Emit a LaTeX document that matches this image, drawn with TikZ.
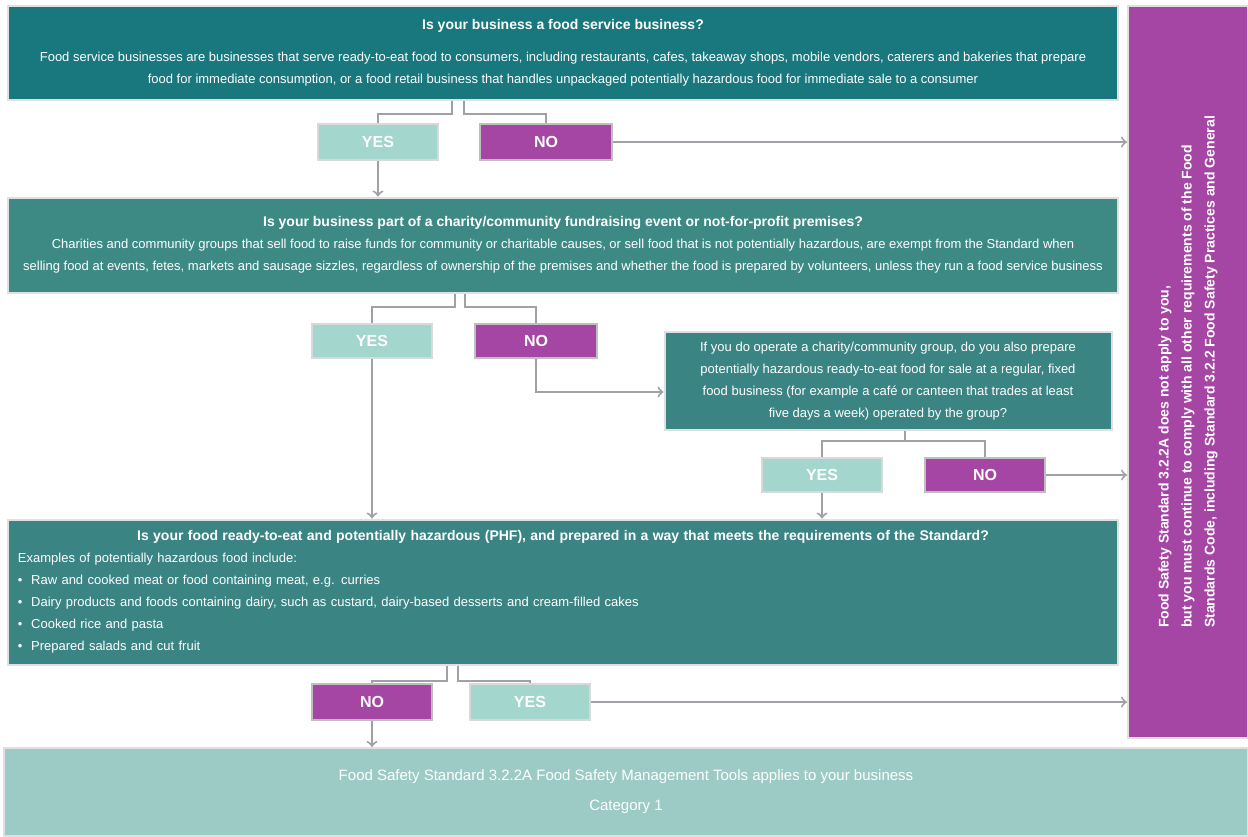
\documentclass[tikz,border=0pt]{standalone}
\usepackage{fontspec}
\setmainfont{Liberation Sans}
\usepackage{tikz}

\definecolor{tealdark}{RGB}{24,120,126}
\definecolor{tealmid}{RGB}{61,138,133}
\definecolor{tealsoft}{RGB}{59,132,132}
\definecolor{yesmint}{RGB}{163,214,204}
\definecolor{resultmint}{RGB}{156,203,197}
\definecolor{nomag}{RGB}{165,70,165}
\definecolor{linkgray}{RGB}{160,160,168}

\tikzset{
  question/.style={fill=#1, draw=black!12, line width=1pt, text=white, inner sep=0pt,
    align=center, font=\fontsize{6.5}{11}\selectfont},
  yesbox/.style={fill=yesmint, draw=black!15, line width=1pt, text=white,
    font=\bfseries\fontsize{8}{9}\selectfont, minimum width=60pt, minimum height=18pt},
  nobox/.style={yesbox, fill=nomag, draw=black!25},
  link/.style={draw=linkgray, line width=1pt}
}

\begin{document}
\begin{tikzpicture}[x=0.5pt, y=-0.5pt]
    \useasboundingbox (0,0) rectangle (1248,836);

    % First question
    \node[question=tealdark, minimum width=555pt, minimum height=47pt] (q1) at (563,53)
      {{\bfseries\fontsize{7}{11}\selectfont Is your business a food service business?}\\[5pt]
       Food service businesses are businesses that serve ready-to-eat food to consumers, including restaurants, cafes, takeaway shops, mobile vendors, caterers and bakeries that prepare\\
       food for immediate consumption, or a food retail business that handles unpackaged potentially hazardous food for immediate sale to a consumer};
    \node[yesbox] (yes1) at (378,142) {YES};
    \node[nobox, minimum width=66pt] (no1) at (546,142) {NO};

    % Second question
    \node[question=tealmid, minimum width=555pt, minimum height=47.5pt] (q2) at (563,245)
      {{\bfseries\fontsize{7}{11}\selectfont Is your business part of a charity/community fundraising event or not-for-profit premises?}\\
       Charities and community groups that sell food to raise funds for community or charitable causes, or sell food that is not potentially hazardous, are exempt from the Standard when\\
       selling food at events, fetes, markets and sausage sizzles, regardless of ownership of the premises and whether the food is prepared by volunteers, unless they run a food service business};
    \node[yesbox, minimum height=17pt] (yes2) at (372,341) {YES};
    \node[nobox, minimum width=61pt, minimum height=17pt] (no2) at (536,341) {NO};

    % Charity follow-up
    \node[question=tealsoft, minimum width=223.5pt, minimum height=49pt] (q3) at (888,381)
      {If you do operate a charity/community group, do you also prepare\\
       potentially hazardous ready-to-eat food for sale at a regular, fixed\\
       food business (for example a caf\'e or canteen that trades at least\\
       five days a week) operated by the group?};
    \node[yesbox, minimum height=17pt] (yes3) at (822,475) {YES};
    \node[nobox, minimum height=17pt] (no3) at (985,475) {NO};

    % Third question
    \node[question=tealsoft, minimum width=555pt, minimum height=72.5pt, text width=545pt, align=left] (q4) at (563,592)
      {\makebox[\linewidth]{\bfseries\fontsize{7}{11}\selectfont Is your food ready-to-eat and potentially hazardous (PHF), and prepared in a way that meets the requirements of the Standard?}\\
       Examples of potentially hazardous food include:\\
       \textbullet\ \ Raw and cooked meat or food containing meat, e.g. curries\\
       \textbullet\ \ Dairy products and foods containing dairy, such as custard, dairy-based desserts and cream-filled cakes\\
       \textbullet\ \ Cooked rice and pasta\\
       \textbullet\ \ Prepared salads and cut fruit};
    \node[nobox] (no4) at (372,702) {NO};
    \node[yesbox] (yes4) at (530,702) {YES};

    % Outcomes
    \node[question=resultmint, minimum width=622pt, minimum height=44pt, font=\fontsize{7.5}{15}\selectfont] (result) at (626,792)
      {Food Safety Standard 3.2.2A Food Safety Management Tools applies to your business\\ Category 1};
    \node[question=nomag, minimum width=60pt, minimum height=366pt] (notapply) at (1188,372) {};
    \node[rotate=90, align=left, text=white, font=\bfseries\fontsize{7}{11.5}\selectfont] (notapplytext) at (notapply.center)
      {Food Safety Standard 3.2.2A does not apply to you,\\
       but you must continue to comply with all other requirements of the Food\\
       Standards Code, including Standard 3.2.2 Food Safety Practices and General};

    % Connectors
    \draw[link] ([xshift=-55.5pt]q1.south) -- ++(0,13) -| (yes1.north);
    \draw[link] ([xshift=-49.5pt]q1.south) -- ++(0,13) -| (no1.north);
    \draw[link, ->] (yes1.south) -- (yes1.south |- q2.north);
    \draw[link, ->] (no1.east) -- (no1.east -| notapply.west);

    \draw[link] ([xshift=-54pt]q2.south) -- ++(0,13) -| (yes2.north);
    \draw[link] ([xshift=-49pt]q2.south) -- ++(0,13) -| (no2.north);
    \draw[link, ->] (yes2.south) -- (yes2.south |- q4.north);
    \draw[link, ->] (no2.south) |- ([yshift=-5.5pt]q3.west);

    \draw[link] ([xshift=8.5pt]q3.south) -- ++(0,10) -| (yes3.north);
    \draw[link] ([xshift=8.5pt]q3.south) -- ++(0,10) -| (no3.north);
    \draw[link, ->] (yes3.south) -- (yes3.south |- q4.north);
    \draw[link, ->] (no3.east) -- (no3.east -| notapply.west);

    \draw[link] ([xshift=-58pt]q4.south) -- ++(0,15) -| (no4.north);
    \draw[link] ([xshift=-52.5pt]q4.south) -- ++(0,15) -| (yes4.north);
    \draw[link, ->] (no4.south) -- (no4.south |- result.north);
    \draw[link, ->] (yes4.east) -- (yes4.east -| notapply.west);

\end{tikzpicture}
\end{document}
